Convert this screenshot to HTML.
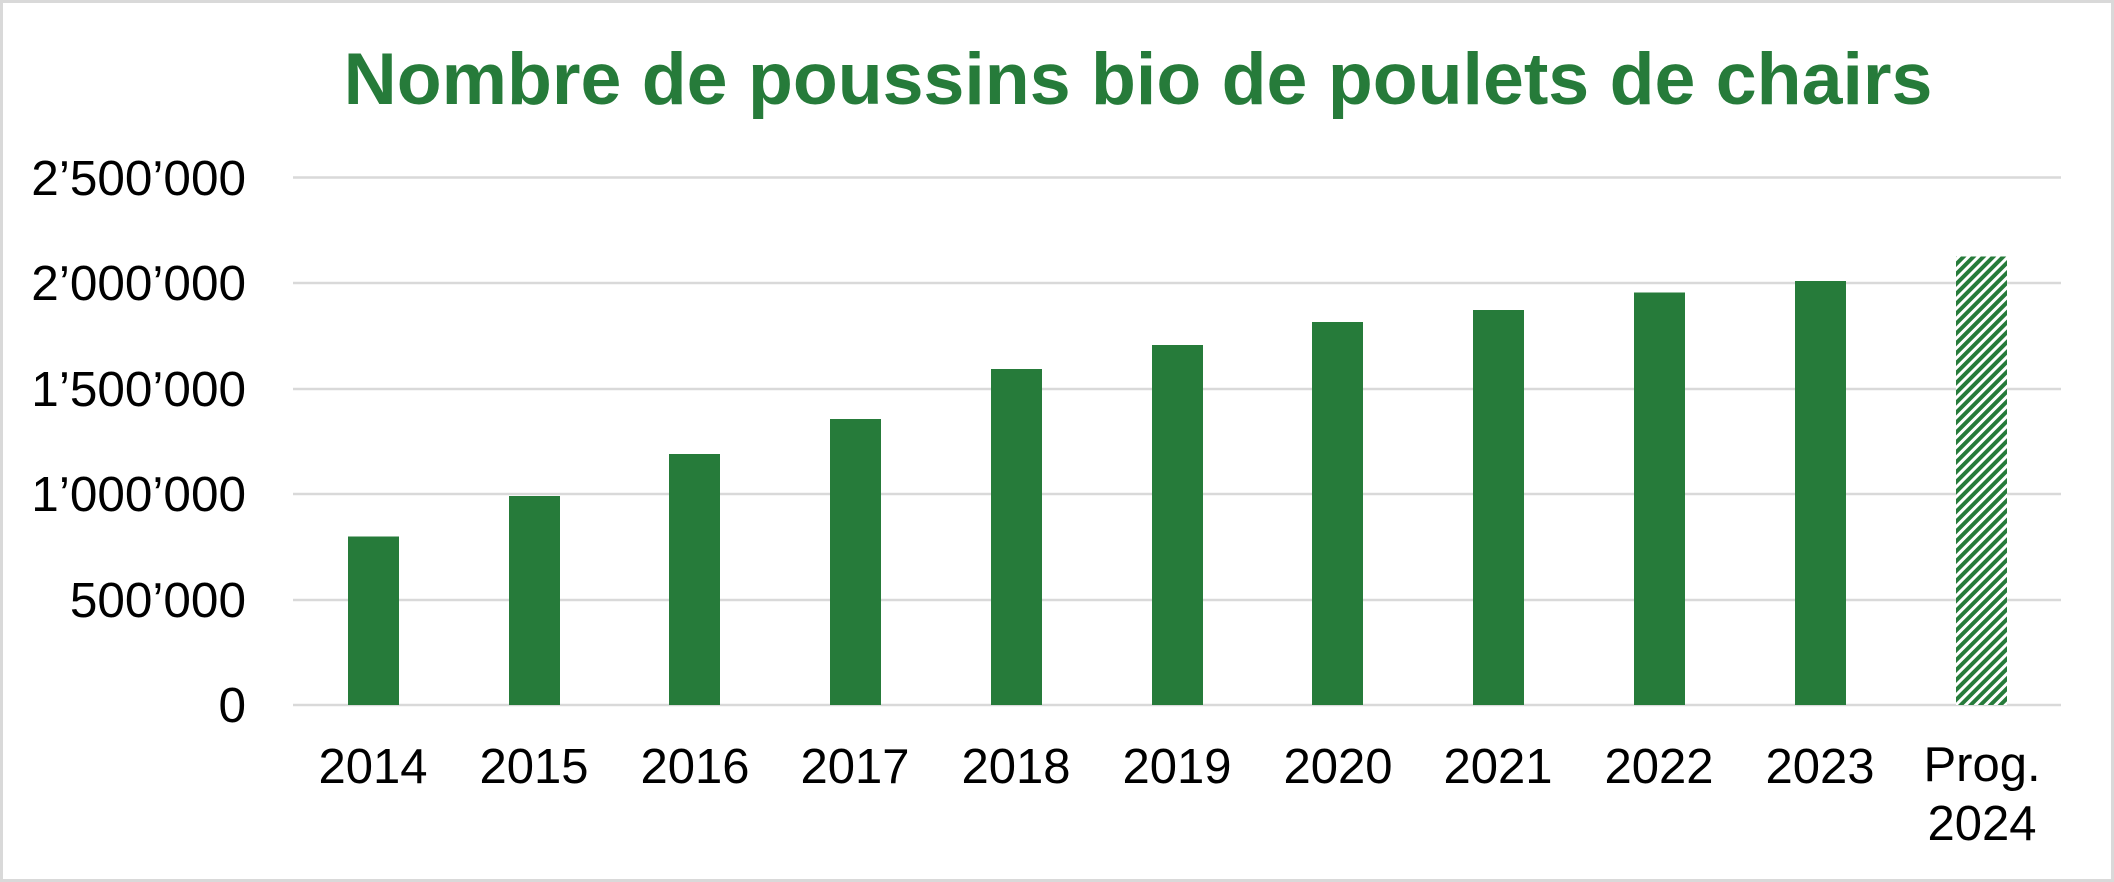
<!DOCTYPE html>
<html><head><meta charset="utf-8"><style>
html,body{margin:0;padding:0;background:#fff}
svg{display:block}
text{font-family:"Liberation Sans",Arial,sans-serif}
</style></head><body>
<svg width="2114" height="882" viewBox="0 0 2114 882" xmlns="http://www.w3.org/2000/svg">
<defs>
<pattern id="h" patternUnits="userSpaceOnUse" width="7" height="7" patternTransform="rotate(45)">
<rect width="7" height="7" fill="#fff"/><rect width="4" height="7" fill="#267b3a"/>
</pattern>
</defs>
<rect x="1.5" y="1.5" width="2111" height="879" fill="#fff" stroke="#d9d9d9" stroke-width="3"/>
<text x="1138" y="104" text-anchor="middle" font-size="73.5" font-weight="bold" fill="#267b3a">Nombre de poussins bio de poulets de chairs</text>
<g stroke="#d9d9d9" stroke-width="2.5">
<line x1="293" x2="2061" y1="177.5" y2="177.5"/>
<line x1="293" x2="2061" y1="283" y2="283"/>
<line x1="293" x2="2061" y1="389" y2="389"/>
<line x1="293" x2="2061" y1="494" y2="494"/>
<line x1="293" x2="2061" y1="600" y2="600"/>
<line x1="293" x2="2061" y1="705" y2="705"/>
</g>
<g font-size="49.5" text-anchor="end" fill="#000">
<text x="246" y="195">2’500’000</text>
<text x="246" y="300">2’000’000</text>
<text x="246" y="406">1’500’000</text>
<text x="246" y="511">1’000’000</text>
<text x="246" y="617">500’000</text>
<text x="246" y="722">0</text>
</g>
<g fill="#267b3a">
<rect x="348" y="536.5" width="51" height="168.5"/>
<rect x="509" y="496" width="51" height="209"/>
<rect x="669" y="454" width="51" height="251"/>
<rect x="830" y="419" width="51" height="286"/>
<rect x="991" y="369" width="51" height="336"/>
<rect x="1152" y="345" width="51" height="360"/>
<rect x="1312" y="322" width="51" height="383"/>
<rect x="1473" y="310" width="51" height="395"/>
<rect x="1634" y="292.5" width="51" height="412.5"/>
<rect x="1795" y="281" width="51" height="424"/>
</g>
<rect x="1956" y="256.5" width="51" height="448.5" fill="url(#h)"/>
<g font-size="49" text-anchor="middle" fill="#000">
<text x="373" y="783">2014</text>
<text x="534" y="783">2015</text>
<text x="695" y="783">2016</text>
<text x="855" y="783">2017</text>
<text x="1016" y="783">2018</text>
<text x="1177" y="783">2019</text>
<text x="1338" y="783">2020</text>
<text x="1498" y="783">2021</text>
<text x="1659" y="783">2022</text>
<text x="1820" y="783">2023</text>
<text x="1982" y="781">Prog.</text>
<text x="1982" y="840">2024</text>
</g>
</svg>
</body></html>
